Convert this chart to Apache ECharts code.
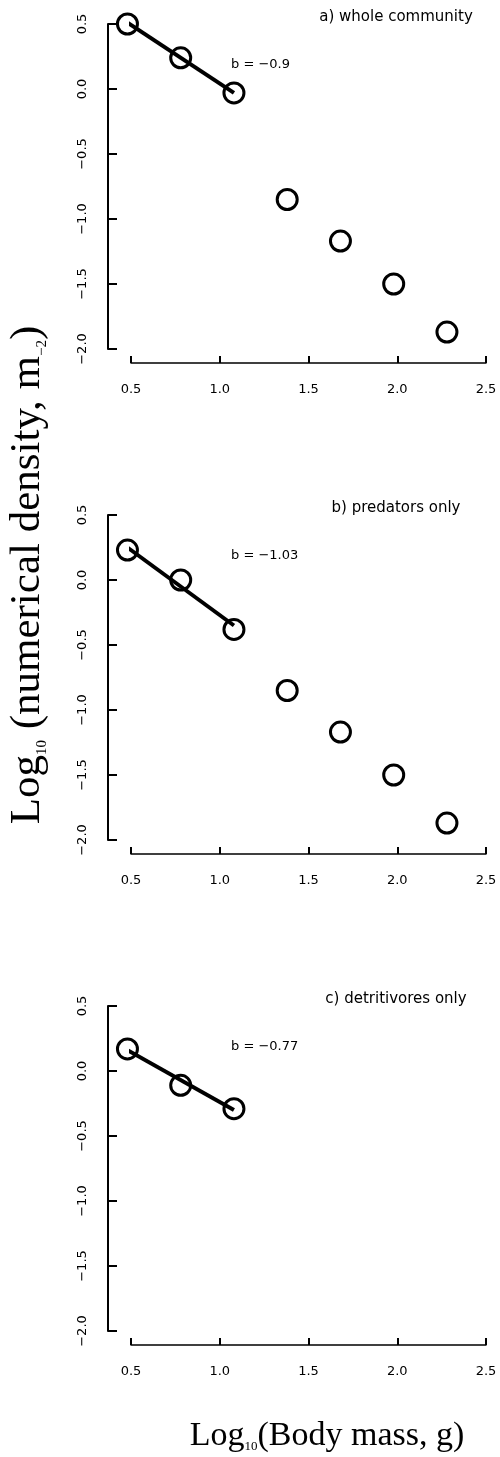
<!DOCTYPE html>
<html>
<head>
<meta charset="utf-8">
<script src="https://cdn.jsdelivr.net/npm/echarts@6/dist/echarts.min.js"></script>
<style>
    html, body { margin: 0; padding: 0; background: #fff; }
    #main { width: 500px; height: 1457px; }
</style>
</head>
<body>
<div id="main"></div>
<script>
    // log10 body mass (g) and log10 numerical density
    var massX = [0.48, 0.78, 1.08, 1.38, 1.68, 1.98, 2.28];
    var wholeY = [0.50, 0.24, -0.03, -0.85, -1.17, -1.50, -1.87];
    var predY = [0.23, 0.00, -0.38, -0.85, -1.17, -1.50, -1.87];
    var detX = [0.48, 0.78, 1.08];
    var detY = [0.17, -0.11, -0.29];

    // end points of the fitted lines (three smallest size classes)
    var fitX = [0.48, 1.08];
    var wholeFit = [0.51, -0.03];
    var predFit = [0.25, -0.35];
    var detFit = [0.16, -0.30];

    var panelTitles = ['a) whole community', 'b) predators only', 'c) detritivores only'];
    var slopeLabels = ['b = \u22120.9', 'b = \u22121.03', 'b = \u22120.77'];

    // axis ranges: [min, max, step]
    var xRange = [0.5, 2.5, 0.5];
    var yRange = [-2.0, 0.5, 0.5];

    var SANS = 'DejaVu Sans';
    var SERIF = 'Liberation Serif';

    function pairs(xs, ys) {
        return xs.map(function (x, i) { return [x, ys[i]]; });
    }

    function fmt(v) {
        return v.toFixed(1).replace('-', '\u2212');
    }

    var panels = [
        { pts: pairs(massX, wholeY), fit: pairs(fitX, wholeFit) },
        { pts: pairs(massX, predY), fit: pairs(fitX, predFit) },
        { pts: pairs(detX, detY), fit: pairs(fitX, detFit) }
    ];
    var tops = [24, 515, 1006];
    var gridH = 325;

    var grids = [], xAxes = [], yAxes = [], series = [], graphics = [];

    panels.forEach(function (p, i) {
        grids.push({ left: 131, right: 14, top: tops[i], height: gridH });
        xAxes.push({
            type: 'value', gridIndex: i,
            min: xRange[0], max: xRange[1], interval: xRange[2],
            offset: 14,
            axisLine: { onZero: false, lineStyle: { color: '#000', width: 1.5 } },
            axisTick: { inside: true, length: 7, lineStyle: { color: '#000', width: 2 } },
            axisLabel: { color: '#000', fontFamily: SANS, fontSize: 13, margin: 20, formatter: fmt },
            splitLine: { show: false }
        });
        yAxes.push({
            type: 'value', gridIndex: i,
            min: yRange[0], max: yRange[1], interval: yRange[2],
            offset: 23,
            axisLine: { show: true, onZero: false, lineStyle: { color: '#000', width: 2 } },
            axisTick: { show: true, inside: true, length: 9, lineStyle: { color: '#000', width: 2 } },
            axisLabel: { color: '#000', fontFamily: SANS, fontSize: 13, rotate: 90, margin: 19, formatter: fmt },
            splitLine: { show: false }
        });
        series.push({
            type: 'scatter', xAxisIndex: i, yAxisIndex: i,
            data: p.pts, clip: false,
            symbol: 'circle', symbolSize: 20,
            itemStyle: { color: 'rgba(0,0,0,0)', borderColor: '#000', borderWidth: 3, opacity: 1 },
            z: 2
        });
        series.push({
            type: 'line', xAxisIndex: i, yAxisIndex: i,
            data: p.fit, clip: false,
            symbol: 'none',
            lineStyle: { color: '#000', width: 4 },
            z: 3
        });
        graphics.push({
            type: 'text', x: 396, y: tops[i] - 7,
            style: {
                text: panelTitles[i], fill: '#000',
                font: '15px "' + SANS + '"',
                align: 'center', verticalAlign: 'middle',
                textAlign: 'center', textVerticalAlign: 'middle'
            }
        });
        graphics.push({
            type: 'text', x: 231, y: tops[i] + 40.5,
            style: {
                text: slopeLabels[i], fill: '#000',
                font: '13px "' + SANS + '"',
                align: 'left', verticalAlign: 'middle',
                textAlign: 'left', textVerticalAlign: 'middle'
            }
        });
    });

    // shared axis titles
    graphics.push({
        type: 'text', x: 28, y: 575, rotation: Math.PI / 2,
        style: {
            text: '{a|Log}{s|10}{a| (numerical density, m}{s|\u22122}{a|)}',
            fill: '#000',
            align: 'center', verticalAlign: 'middle',
            textAlign: 'center', textVerticalAlign: 'middle',
            rich: {
                a: { fontFamily: SERIF, fontSize: 43, lineHeight: 43, fill: '#000', color: '#000' },
                s: { fontFamily: SERIF, fontSize: 15, lineHeight: 18, verticalAlign: 'bottom', fill: '#000', color: '#000' }
            }
        }
    });
    graphics.push({
        type: 'text', x: 327, y: 1436,
        style: {
            text: '{a|Log}{s|10}{a|(Body mass, g)}',
            fill: '#000',
            align: 'center', verticalAlign: 'middle',
            textAlign: 'center', textVerticalAlign: 'middle',
            rich: {
                a: { fontFamily: SERIF, fontSize: 34, lineHeight: 34, fill: '#000', color: '#000' },
                s: { fontFamily: SERIF, fontSize: 13, lineHeight: 15, verticalAlign: 'bottom', fill: '#000', color: '#000' }
            }
        }
    });

    var chart = echarts.init(document.getElementById('main'));
    chart.setOption({
        backgroundColor: '#fff',
        animation: false,
        grid: grids,
        xAxis: xAxes,
        yAxis: yAxes,
        series: series,
        graphic: graphics
    });
</script>
</body>
</html>
